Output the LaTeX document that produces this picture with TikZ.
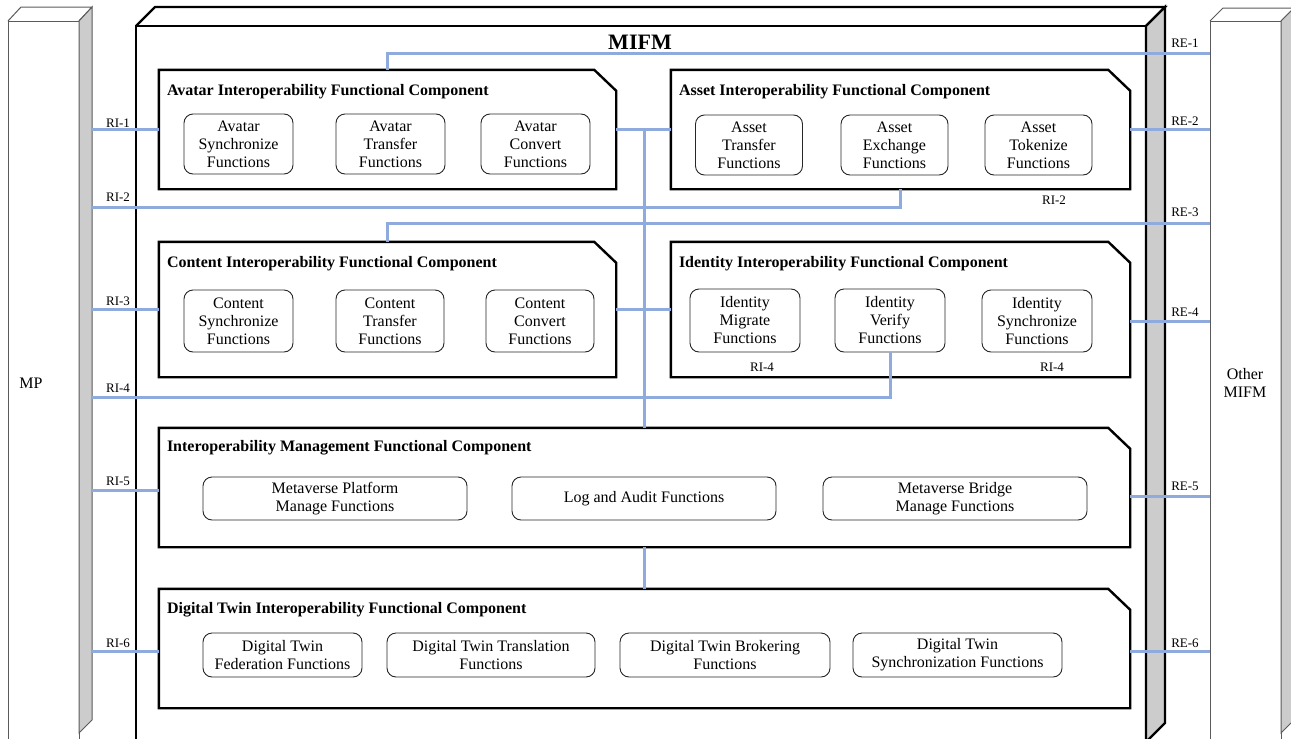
\documentclass[tikz,border=0pt]{standalone}
\usepackage{fontspec}
\setmainfont{Liberation Serif}
\usetikzlibrary{calc}
\definecolor{linkblue}{RGB}{143,170,220}
\definecolor{sidegrey}{RGB}{204,204,204}
\definecolor{bargrey}{RGB}{90,90,90}
% outline of a functional component: rectangle with a cut top-right corner
\newcommand\compoutline[1]{\draw[compline] (#1.south west) -- (#1.north west) -- ([xshift=-22pt]#1.north east) -- ([yshift=-21pt]#1.north east) -- (#1.south east) -- cycle;}
\begin{document}
\begin{tikzpicture}[x=1pt,y=-1pt,
  comp/.style n args={2}{rectangle, inner sep=0pt, minimum width=#1, minimum height=#2},
  compline/.style={line width=2.4pt, line join=miter},
  frameline/.style={line width=2.4pt, line join=miter},
  bar/.style={draw=bargrey, line width=1pt, line join=miter},
  ctitle/.style={anchor=west, inner sep=0pt, font=\fontsize{16}{18}\selectfont\bfseries},
  fn/.style n args={2}{draw=black!85, line width=0.9pt, rounded corners=9pt, minimum width=#1, minimum height=#2, inner sep=0pt, align=center, font=\fontsize{16}{18}\selectfont},
  link/.style={draw=linkblue, line width=3pt},
  lbl/.style={inner sep=0pt, font=\fontsize{13}{15}\selectfont},
  side/.style={inner sep=0pt, align=center, font=\fontsize{16}{18}\selectfont}]
\useasboundingbox (0,0) rectangle (1291,739);
\clip (0,0) rectangle (1291,739);

% ---- MP platform bar ----
\draw[bar] (8,760) -- (8,21) -- (79,21) -- (79,760);
\draw[bar] (8,21) -- (21,7) -- (92,7) -- (79,21);
\draw[bar, fill=sidegrey] (79,21) -- (92,7) -- (92,720) -- (79,733) -- cycle;
\node[side] (mp) at (31,383) {MP};
\coordinate (mpedge) at (92,0);

% ---- Other MIFM bar ----
\draw[bar] (1210,760) -- (1210,21) -- (1281,21) -- (1281,760);
\draw[bar] (1210,21) -- (1223,8) -- (1294,8) -- (1281,21);
\draw[bar, fill=sidegrey] (1281,21) -- (1294,8) -- (1294,720) -- (1281,733) -- cycle;
\node[side] (other) at (1245,383) {Other\\MIFM};
\coordinate (otheredge) at (1210,0);

% ---- MIFM frame ----
\draw[frameline] (136,760) -- (136,26) -- (1146,26) -- (1146,760);
\draw[frameline] (136,26) -- (155,7) -- (1165,7) -- (1146,26);
\draw[frameline, fill=sidegrey] (1146,26) -- (1165,7) -- (1165,723) -- (1146,742) -- cycle;
\node[font=\fontsize{22}{24}\selectfont\bfseries, inner sep=0pt] (mifm) at (640,42) {MIFM};

% ---- functional components ----
\node[comp={457}{119}] (avatar) at (387.5,129.5) {};
\node[comp={459}{119}] (asset) at (900.5,129.5) {};
\node[comp={457}{135}] (content) at (387.5,309.5) {};
\node[comp={459}{135}] (identity) at (900.5,309.5) {};
\node[comp={971}{119}] (management) at (644.5,487.5) {};
\node[comp={971}{119}] (digital) at (644.5,648.5) {};
\compoutline{avatar}
\compoutline{asset}
\compoutline{content}
\compoutline{identity}
\compoutline{management}
\compoutline{digital}

\node[ctitle] (avatar-t) at ([xshift=8pt,yshift=-22pt]avatar.north west) {Avatar Interoperability Functional Component};
\node[ctitle] (asset-t) at ([xshift=8pt,yshift=-22pt]asset.north west) {Asset Interoperability Functional Component};
\node[ctitle] (content-t) at ([xshift=8pt,yshift=-22pt]content.north west) {Content Interoperability Functional Component};
\node[ctitle] (identity-t) at ([xshift=8pt,yshift=-22pt]identity.north west) {Identity Interoperability Functional Component};
\node[ctitle] (management-t) at ([xshift=8pt,yshift=-20pt]management.north west) {Interoperability Management Functional Component};
\node[ctitle] (digital-t) at ([xshift=8pt,yshift=-21pt]digital.north west) {Digital Twin Interoperability Functional Component};

% ---- functions ----
\node[fn={109}{60}] (av1) at (238.5,144) {Avatar\\Synchronize\\Functions};
\node[fn={109}{60}] (av2) at (390.5,144) {Avatar\\Transfer\\Functions};
\node[fn={109}{60}] (av3) at (535.5,144) {Avatar\\Convert\\Functions};

\node[fn={107}{60}] (as1) at (749,145) {Asset\\Transfer\\Functions};
\node[fn={107}{60}] (as2) at (894.5,145) {Asset\\Exchange\\Functions};
\node[fn={107}{60}] (as3) at (1038.5,145) {Asset\\Tokenize\\Functions};

\node[fn={109}{62}] (co1) at (238.5,321) {Content\\Synchronize\\Functions};
\node[fn={108}{62}] (co2) at (390,321) {Content\\Transfer\\Functions};
\node[fn={108}{62}] (co3) at (540,321) {Content\\Convert\\Functions};

\node[fn={110}{63}] (id1) at (745,320.5) {Identity\\Migrate\\Functions};
\node[fn={110}{63}] (id2) at (890,320.5) {Identity\\Verify\\Functions};
\node[fn={110}{62}] (id3) at (1037,321) {Identity\\Synchronize\\Functions};

\node[fn={264}{43}] (mg1) at (335,498.5) {Metaverse Platform\\Manage Functions};
\node[fn={264}{43}] (mg2) at (644,498.5) {Log and Audit Functions};
\node[fn={264}{43}] (mg3) at (955,498.5) {Metaverse Bridge\\Manage Functions};

\node[fn={159}{44}] (dt1) at (282.5,655) {Digital Twin\\Federation Functions};
\node[fn={208}{44}] (dt2) at (491,655) {Digital Twin Translation\\Functions};
\node[fn={210}{44}] (dt3) at (725,655) {Digital Twin Brokering\\Functions};
\node[fn={209}{44}] (dt4) at (957.5,655) {Digital Twin\\Synchronization Functions};

% ---- internal links ----
\draw[link] (avatar.east) -- (asset.west);
\draw[link] (content.east) -- (identity.west);
\draw[link] (avatar.east -| management.north) -- (management.north);
\draw[link] (management.south) -- (digital.north);

% ---- reference points RI (to MP) ----
\draw[link] (avatar.west) -- (avatar.west -| mpedge);
\coordinate (ri2turn) at (900.5,207);
\draw[link] (asset.south) -- (ri2turn) -- (ri2turn -| mpedge);
\draw[link] (content.west) -- (content.west -| mpedge);
\coordinate (ri4turn) at (890,397);
\draw[link] (id2.south) -- (ri4turn) -- (ri4turn -| mpedge);
\coordinate (ri5start) at ([yshift=-2.5pt]management.west);
\draw[link] (ri5start) -- (ri5start -| mpedge);
\coordinate (ri6start) at ([yshift=-2.5pt]digital.west);
\draw[link] (ri6start) -- (ri6start -| mpedge);

% ---- reference points RE (to other MIFM) ----
\coordinate (re1turn) at (387.5,53);
\draw[link] (avatar.north) -- (re1turn) -- (re1turn -| otheredge);
\draw[link] (asset.east) -- (asset.east -| otheredge);
\coordinate (re3turn) at (387.5,223);
\draw[link] (content.north) -- (re3turn) -- (re3turn -| otheredge);
\coordinate (re4start) at ([yshift=-11.5pt]identity.east);
\draw[link] (re4start) -- (re4start -| otheredge);
\coordinate (re5start) at ([yshift=-8.5pt]management.east);
\draw[link] (re5start) -- (re5start -| otheredge);
\coordinate (re6start) at ([yshift=-2.5pt]digital.east);
\draw[link] (re6start) -- (re6start -| otheredge);

% ---- labels ----
\node[lbl] (l-ri1) at (118,123) {RI-1};
\node[lbl] (l-ri2) at (118,197) {RI-2};
\node[lbl] (l-ri3) at (118,301) {RI-3};
\node[lbl] (l-ri4) at (118,388) {RI-4};
\node[lbl] (l-ri5) at (118,481) {RI-5};
\node[lbl] (l-ri6) at (118,643) {RI-6};
\node[lbl] (l-ri2b) at (1054,200) {RI-2};
\node[lbl] (l-ri4a) at (762,367) {RI-4};
\node[lbl] (l-ri4b) at (1052,367) {RI-4};
\node[lbl] (l-re1) at (1185,43) {RE-1};
\node[lbl] (l-re2) at (1185,121) {RE-2};
\node[lbl] (l-re3) at (1185,212) {RE-3};
\node[lbl] (l-re4) at (1185,312) {RE-4};
\node[lbl] (l-re5) at (1185,486) {RE-5};
\node[lbl] (l-re6) at (1185,643) {RE-6};
\end{tikzpicture}
\end{document}
